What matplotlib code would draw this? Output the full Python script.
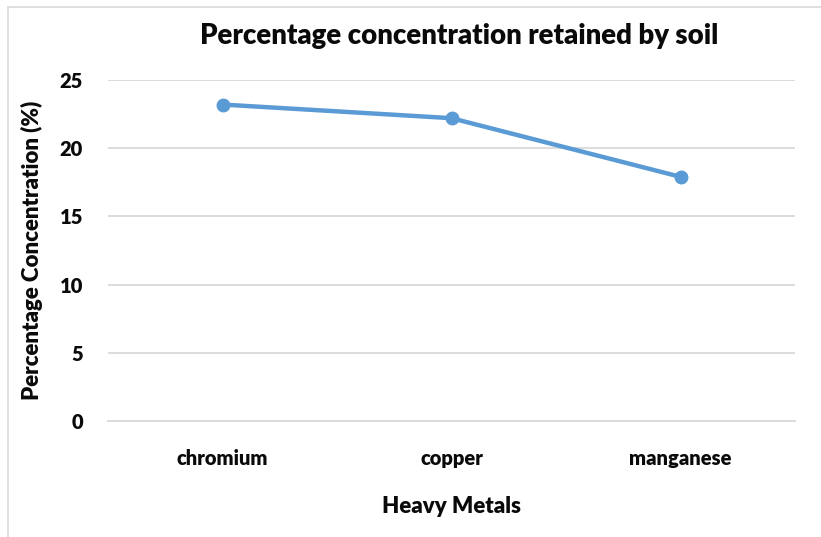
import matplotlib.pyplot as plt
from matplotlib.patches import Rectangle

# Percentage of each heavy metal retained by the soil
metals = ['chromium', 'copper', 'manganese']
retained = [23.2, 22.2, 17.9]
y_ticks = [0, 5, 10, 15, 20, 25]

plt.rcParams['font.family'] = ['Lato', 'DejaVu Sans']
plt.rcParams['font.weight'] = 'bold'

fig = plt.figure(figsize=(8.21, 5.37), dpi=100)
ax = fig.add_axes([108 / 821, 1 - 421 / 537, 687 / 821, 341 / 537])

x = list(range(len(metals)))
ax.plot(x, retained, color='#5B9BD5', linewidth=3.2, marker='o',
        markersize=9, solid_capstyle='round', zorder=3)

ax.set_xlim(-0.5, len(metals) - 0.5)
ax.set_ylim(0, 25)
ax.set_yticks(y_ticks)
ax.set_xticks(x)
ax.set_xticklabels(metals)
ax.yaxis.grid(True, color='#D9D9D9', linewidth=1.3)
ax.set_axisbelow(True)
for side in ['top', 'right', 'left']:
    ax.spines[side].set_visible(False)
ax.spines['bottom'].set_color('#D9D9D9')
ax.spines['bottom'].set_linewidth(1.3)
ax.tick_params(axis='both', length=0, labelsize=14.5, colors='#0A0A0A')
ax.tick_params(axis='x', pad=20)
ax.tick_params(axis='y', pad=18)
for lbl in ax.get_xticklabels() + ax.get_yticklabels():
    lbl.set_fontweight('heavy')

ax.set_xlabel('Heavy Metals', fontsize=16, fontweight='heavy', labelpad=20, color='#0A0A0A')
ax.set_ylabel('Percentage Concentration (%)', fontsize=16, fontweight='heavy', labelpad=12,
              color='#0A0A0A')
fig.text(459 / 821, 1 - 36 / 537, 'Percentage concentration retained by soil',
         fontsize=19.8, fontweight='heavy', ha='center', va='center', color='#0A0A0A')

# thin chart border
fig.patches.append(Rectangle((8 / 821, -0.05), 1.2, 1 - 7 / 537 + 0.05,
                             transform=fig.transFigure, fill=False,
                             edgecolor='#D9D9D9', linewidth=1.2))

fig.savefig('out.png', dpi=100)
